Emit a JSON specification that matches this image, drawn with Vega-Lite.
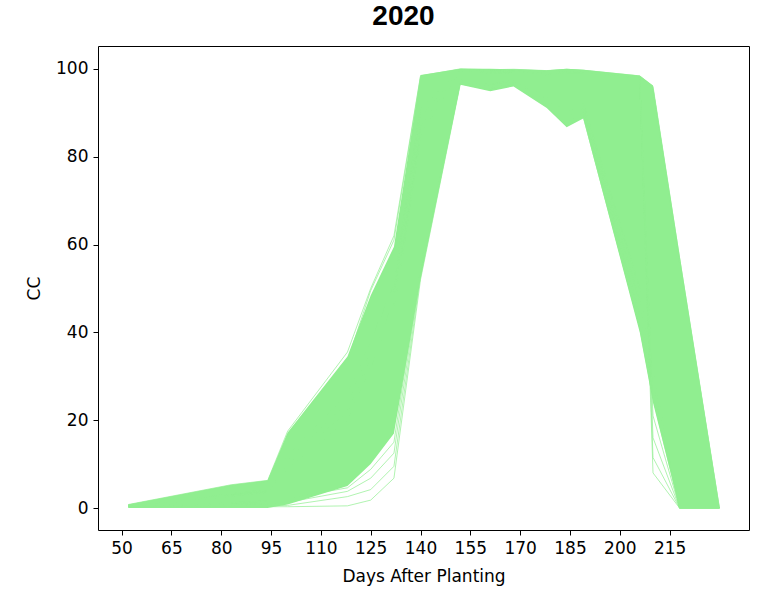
{
  "$schema": "https://vega.github.io/schema/vega-lite/v6.json",
  "width": 651,
  "height": 484,
  "autosize": {"type": "none"},
  "padding": {"left": 98, "top": 46, "right": 10, "bottom": 62},
  "background": "white",
  "config": {
    "view": {"stroke": "black", "strokeWidth": 1},
    "axis": {
      "grid": false,
      "domain": false,
      "tickColor": "black",
      "tickSize": 5,
      "labelColor": "black",
      "labelFont": "DejaVu Sans",
      "labelFontSize": 17,
      "titleColor": "black",
      "titleFont": "DejaVu Sans",
      "titleFontSize": 17,
      "titleFontWeight": "normal"
    }
  },
  "title": {
    "text": "2020",
    "font": "Liberation Sans",
    "fontSize": 28,
    "fontWeight": "bold",
    "color": "black",
    "anchor": "middle",
    "offset": 15,
    "dx": -20
  },
  "datasets": {
    "band": [
      {"day": 52, "low": 0, "high": 0.8},
      {"day": 83, "low": 0, "high": 5.3},
      {"day": 94, "low": 0, "high": 6.3},
      {"day": 100, "low": 0.8, "high": 17.2},
      {"day": 118, "low": 5, "high": 34.5},
      {"day": 125, "low": 10, "high": 48.4},
      {"day": 132, "low": 17, "high": 59.5},
      {"day": 140, "low": 52, "high": 98.6},
      {"day": 152, "low": 96.4, "high": 100},
      {"day": 161, "low": 94.9, "high": 100},
      {"day": 168, "low": 96, "high": 99.9},
      {"day": 178, "low": 91.1, "high": 99.7},
      {"day": 184, "low": 86.7, "high": 100},
      {"day": 189, "low": 88.7, "high": 99.8},
      {"day": 206, "low": 40, "high": 98.5},
      {"day": 210, "low": 24, "high": 96.2},
      {"day": 218, "low": 0, "high": 57.6},
      {"day": 230, "low": 0, "high": 0.3}
    ],
    "strands": [
      {"run": "S1", "day": 52, "cc": 0.3}, {"run": "S1", "day": 83, "cc": 0.3}, {"run": "S1", "day": 94, "cc": 0.3}, {"run": "S1", "day": 100, "cc": 0.3}, {"run": "S1", "day": 118, "cc": 0.5}, {"run": "S1", "day": 125, "cc": 1.8}, {"run": "S1", "day": 132, "cc": 6.8}, {"run": "S1", "day": 140, "cc": 52}, {"run": "S1", "day": 152, "cc": 96.6}, {"run": "S1", "day": 161, "cc": 95.2}, {"run": "S1", "day": 168, "cc": 96.3}, {"run": "S1", "day": 178, "cc": 91.5}, {"run": "S1", "day": 184, "cc": 87.2}, {"run": "S1", "day": 189, "cc": 89}, {"run": "S1", "day": 206, "cc": 41}, {"run": "S1", "day": 210, "cc": 25}, {"run": "S1", "day": 218, "cc": 0}, {"run": "S1", "day": 230, "cc": 0},
      {"run": "S2", "day": 52, "cc": 0.3}, {"run": "S2", "day": 83, "cc": 0.4}, {"run": "S2", "day": 94, "cc": 0.5}, {"run": "S2", "day": 100, "cc": 0.6}, {"run": "S2", "day": 118, "cc": 2.6}, {"run": "S2", "day": 125, "cc": 4.2}, {"run": "S2", "day": 132, "cc": 9.5}, {"run": "S2", "day": 140, "cc": 53}, {"run": "S2", "day": 152, "cc": 97}, {"run": "S2", "day": 161, "cc": 95.5}, {"run": "S2", "day": 168, "cc": 96.5}, {"run": "S2", "day": 178, "cc": 92}, {"run": "S2", "day": 184, "cc": 88}, {"run": "S2", "day": 189, "cc": 90}, {"run": "S2", "day": 206, "cc": 44}, {"run": "S2", "day": 210, "cc": 27}, {"run": "S2", "day": 218, "cc": 0}, {"run": "S2", "day": 230, "cc": 0},
      {"run": "S3", "day": 52, "cc": 0.4}, {"run": "S3", "day": 83, "cc": 0.8}, {"run": "S3", "day": 94, "cc": 1}, {"run": "S3", "day": 100, "cc": 1.3}, {"run": "S3", "day": 118, "cc": 3.8}, {"run": "S3", "day": 125, "cc": 6.8}, {"run": "S3", "day": 132, "cc": 12.5}, {"run": "S3", "day": 140, "cc": 54}, {"run": "S3", "day": 152, "cc": 97.2}, {"run": "S3", "day": 161, "cc": 96}, {"run": "S3", "day": 168, "cc": 97}, {"run": "S3", "day": 178, "cc": 93}, {"run": "S3", "day": 184, "cc": 89}, {"run": "S3", "day": 189, "cc": 91}, {"run": "S3", "day": 206, "cc": 47}, {"run": "S3", "day": 210, "cc": 29}, {"run": "S3", "day": 218, "cc": 0}, {"run": "S3", "day": 230, "cc": 0},
      {"run": "S4", "day": 52, "cc": 0.4}, {"run": "S4", "day": 83, "cc": 1.2}, {"run": "S4", "day": 94, "cc": 1.6}, {"run": "S4", "day": 100, "cc": 2.2}, {"run": "S4", "day": 118, "cc": 4.6}, {"run": "S4", "day": 125, "cc": 8.8}, {"run": "S4", "day": 132, "cc": 15}, {"run": "S4", "day": 140, "cc": 55}, {"run": "S4", "day": 152, "cc": 97.5}, {"run": "S4", "day": 161, "cc": 96.5}, {"run": "S4", "day": 168, "cc": 97.3}, {"run": "S4", "day": 178, "cc": 93.5}, {"run": "S4", "day": 184, "cc": 90}, {"run": "S4", "day": 189, "cc": 92}, {"run": "S4", "day": 206, "cc": 50}, {"run": "S4", "day": 210, "cc": 31}, {"run": "S4", "day": 218, "cc": 0}, {"run": "S4", "day": 230, "cc": 0},
      {"run": "T1", "day": 52, "cc": 0.8}, {"run": "T1", "day": 83, "cc": 5.3}, {"run": "T1", "day": 94, "cc": 6.3}, {"run": "T1", "day": 100, "cc": 17.5}, {"run": "T1", "day": 118, "cc": 35.5}, {"run": "T1", "day": 125, "cc": 50}, {"run": "T1", "day": 132, "cc": 62}, {"run": "T1", "day": 140, "cc": 98.4}, {"run": "T1", "day": 152, "cc": 100}, {"run": "T1", "day": 161, "cc": 99.8}, {"run": "T1", "day": 168, "cc": 99.9}, {"run": "T1", "day": 178, "cc": 99.6}, {"run": "T1", "day": 184, "cc": 99.9}, {"run": "T1", "day": 189, "cc": 99.7}, {"run": "T1", "day": 206, "cc": 98.4}, {"run": "T1", "day": 210, "cc": 96}, {"run": "T1", "day": 218, "cc": 57}, {"run": "T1", "day": 230, "cc": 0},
      {"run": "T2", "day": 52, "cc": 0.7}, {"run": "T2", "day": 83, "cc": 5}, {"run": "T2", "day": 94, "cc": 6.1}, {"run": "T2", "day": 100, "cc": 16.8}, {"run": "T2", "day": 118, "cc": 33.5}, {"run": "T2", "day": 125, "cc": 49.5}, {"run": "T2", "day": 132, "cc": 61}, {"run": "T2", "day": 140, "cc": 98.2}, {"run": "T2", "day": 152, "cc": 99.9}, {"run": "T2", "day": 161, "cc": 99.7}, {"run": "T2", "day": 168, "cc": 99.8}, {"run": "T2", "day": 178, "cc": 99.5}, {"run": "T2", "day": 184, "cc": 99.8}, {"run": "T2", "day": 189, "cc": 99.6}, {"run": "T2", "day": 206, "cc": 98.2}, {"run": "T2", "day": 210, "cc": 95.5}, {"run": "T2", "day": 218, "cc": 56}, {"run": "T2", "day": 230, "cc": 0},
      {"run": "D1", "day": 52, "cc": 0.5}, {"run": "D1", "day": 83, "cc": 2.5}, {"run": "D1", "day": 94, "cc": 3.5}, {"run": "D1", "day": 100, "cc": 9}, {"run": "D1", "day": 118, "cc": 20}, {"run": "D1", "day": 125, "cc": 32}, {"run": "D1", "day": 132, "cc": 45}, {"run": "D1", "day": 140, "cc": 85}, {"run": "D1", "day": 152, "cc": 99.5}, {"run": "D1", "day": 161, "cc": 99}, {"run": "D1", "day": 168, "cc": 99.2}, {"run": "D1", "day": 178, "cc": 98.5}, {"run": "D1", "day": 184, "cc": 99}, {"run": "D1", "day": 189, "cc": 99}, {"run": "D1", "day": 206, "cc": 98.2}, {"run": "D1", "day": 210, "cc": 8}, {"run": "D1", "day": 218, "cc": 0}, {"run": "D1", "day": 230, "cc": 0},
      {"run": "D2", "day": 52, "cc": 0.5}, {"run": "D2", "day": 83, "cc": 2.8}, {"run": "D2", "day": 94, "cc": 3.8}, {"run": "D2", "day": 100, "cc": 10}, {"run": "D2", "day": 118, "cc": 22}, {"run": "D2", "day": 125, "cc": 34}, {"run": "D2", "day": 132, "cc": 47}, {"run": "D2", "day": 140, "cc": 87}, {"run": "D2", "day": 152, "cc": 99.6}, {"run": "D2", "day": 161, "cc": 99.2}, {"run": "D2", "day": 168, "cc": 99.3}, {"run": "D2", "day": 178, "cc": 98.7}, {"run": "D2", "day": 184, "cc": 99.2}, {"run": "D2", "day": 189, "cc": 99.1}, {"run": "D2", "day": 206, "cc": 98}, {"run": "D2", "day": 210, "cc": 11.5}, {"run": "D2", "day": 218, "cc": 0}, {"run": "D2", "day": 230, "cc": 0},
      {"run": "D3", "day": 52, "cc": 0.5}, {"run": "D3", "day": 83, "cc": 3}, {"run": "D3", "day": 94, "cc": 4}, {"run": "D3", "day": 100, "cc": 11}, {"run": "D3", "day": 118, "cc": 24}, {"run": "D3", "day": 125, "cc": 36}, {"run": "D3", "day": 132, "cc": 49}, {"run": "D3", "day": 140, "cc": 89}, {"run": "D3", "day": 152, "cc": 99.7}, {"run": "D3", "day": 161, "cc": 99.3}, {"run": "D3", "day": 168, "cc": 99.4}, {"run": "D3", "day": 178, "cc": 98.9}, {"run": "D3", "day": 184, "cc": 99.3}, {"run": "D3", "day": 189, "cc": 99.2}, {"run": "D3", "day": 206, "cc": 97.8}, {"run": "D3", "day": 210, "cc": 16}, {"run": "D3", "day": 218, "cc": 0}, {"run": "D3", "day": 230, "cc": 0},
      {"run": "D4", "day": 52, "cc": 0.6}, {"run": "D4", "day": 83, "cc": 3.2}, {"run": "D4", "day": 94, "cc": 4.2}, {"run": "D4", "day": 100, "cc": 12}, {"run": "D4", "day": 118, "cc": 26}, {"run": "D4", "day": 125, "cc": 38}, {"run": "D4", "day": 132, "cc": 51}, {"run": "D4", "day": 140, "cc": 91}, {"run": "D4", "day": 152, "cc": 99.8}, {"run": "D4", "day": 161, "cc": 99.4}, {"run": "D4", "day": 168, "cc": 99.5}, {"run": "D4", "day": 178, "cc": 99}, {"run": "D4", "day": 184, "cc": 99.4}, {"run": "D4", "day": 189, "cc": 99.3}, {"run": "D4", "day": 206, "cc": 97.5}, {"run": "D4", "day": 210, "cc": 21}, {"run": "D4", "day": 218, "cc": 0}, {"run": "D4", "day": 230, "cc": 0}
    ]
  },
  "layer": [
    {
      "data": {"name": "band"},
      "mark": {"type": "area", "color": "#90EE90", "opacity": 1, "clip": true},
      "encoding": {
        "x": {
          "field": "day", "type": "quantitative",
          "scale": {"domain": [42.9, 238.9], "nice": false, "zero": false},
          "axis": {"title": "Days After Planting", "values": [50, 65, 80, 95, 110, 125, 140, 155, 170, 185, 200, 215], "format": "d", "labelPadding": 5, "titlePadding": 12}
        },
        "y": {
          "field": "low", "type": "quantitative",
          "scale": {"domain": [-5, 105.2], "nice": false, "zero": false},
          "axis": {"title": "CC", "values": [0, 20, 40, 60, 80, 100], "format": "d", "labelPadding": 5, "titlePadding": 12}
        },
        "y2": {"field": "high"}
      }
    },
    {
      "data": {"name": "strands"},
      "mark": {"type": "line", "color": "#90EE90", "opacity": 0.7, "strokeWidth": 1, "clip": true},
      "encoding": {
        "x": {"field": "day", "type": "quantitative", "title": "Days After Planting"},
        "y": {"field": "cc", "type": "quantitative", "title": "CC"},
        "detail": {"field": "run"}
      }
    }
  ]
}
